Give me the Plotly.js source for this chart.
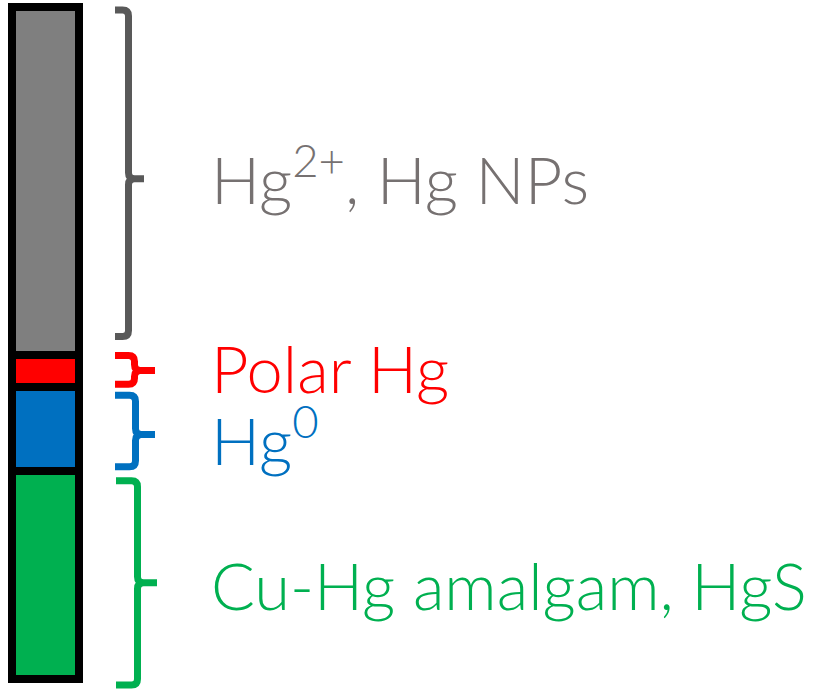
<!DOCTYPE html>
<html>
<head>
<meta charset="utf-8">
<script src="https://cdn.plot.ly/plotly-3.0.1.min.js"></script>
<style>html,body{margin:0;padding:0;background:#fff;}#chart{width:832px;height:692px;}</style>
</head>
<body>
<div id="chart"></div>
<script>
// ---- data ----
var categories = ['Cu-Hg amalgam, HgS', 'Hg<sup>0</sup>', 'Polar Hg', 'Hg<sup>2+</sup>, Hg NPs'];
var shares = [31.0, 12.4, 4.8, 51.8];
var barColors = ['#00B050', '#0070C0', '#FF0000', '#7F7F7F'];
var textColors = ['#00B050', '#0070C0', '#FF0000', '#767171'];
var braceColors = ['#00B050', '#0070C0', '#FF0000', '#595959'];

// ---- geometry (decoration) ----
var pxPerUnit = 6.72;           // y pixels per % (plot spans 0..100 over 672px)
var W = 832, H = 692;
var barCenterPx = 45.5, barWidthPx = 67;
// brace insets (px) relative to segment top / bottom, tick offset from brace middle (px), x offsets (px from bar center)
var braceGeom = [
  {topIn: 10, botIn: -6, tick: 0,   xl: 70.5, xv: 92, xt: 111.5, ys: -2},
  {topIn: 8,  botIn: 4,  tick: 3.5, xl: 69.5, xv: 90, xt: 109.5, ys: -1},
  {topIn: 0.5,botIn: 3,  tick: 0.5, xl: 69.5, xv: 89, xt: 109.5, ys: 2},
  {topIn: 3,  botIn: 18.5,tick: 5.5,xl: 69.5, xv: 83, xt: 98.5, ys: 4}
];
var labelX = (209 - barCenterPx) / barWidthPx;

var yMin = -(H - 679) / pxPerUnit, yMax = 100 + 7 / pxPerUnit;
var xMin = -barCenterPx / barWidthPx, xMax = (W - barCenterPx) / barWidthPx;

var traces = shares.map(function (v, i) {
  return {
    type: 'bar', x: [0], y: [v], width: [1], name: categories[i],
    marker: {color: barColors[i], line: {color: '#000000', width: 8}},
    hoverinfo: 'skip', showlegend: false
  };
});

var shapes = [], annotations = [];
var cum = 0;
shares.forEach(function (v, i) {
  var lo = cum, hi = cum + v; cum = hi;
  var g = braceGeom[i];
  var top = hi - g.topIn / pxPerUnit;
  var bot = lo + g.botIn / pxPerUnit;
  var mid = (top + bot) / 2 - g.tick / pxPerUnit;
  var r = 6, ry = r / pxPerUnit;
  var p = 'M' + g.xl + ',' + top +
    ' L' + (g.xv - r) + ',' + top +
    ' Q' + g.xv + ',' + top + ' ' + g.xv + ',' + (top - ry) +
    ' L' + g.xv + ',' + (mid + ry) +
    ' Q' + g.xv + ',' + mid + ' ' + (g.xv + r) + ',' + mid +
    ' L' + g.xt + ',' + mid +
    ' M' + (g.xv + r) + ',' + mid +
    ' Q' + g.xv + ',' + mid + ' ' + g.xv + ',' + (mid - ry) +
    ' L' + g.xv + ',' + (bot + ry) +
    ' Q' + g.xv + ',' + bot + ' ' + (g.xv - r) + ',' + bot +
    ' L' + g.xl + ',' + bot;
  shapes.push({
    type: 'path', xref: 'x', yref: 'y', xsizemode: 'pixel', xanchor: 0,
    path: p, line: {color: braceColors[i], width: 7}
  });
  annotations.push({
    xref: 'x', yref: 'y', x: labelX, y: mid, xanchor: 'left', yanchor: 'middle',
    yshift: g.ys,
    text: categories[i], showarrow: false,
    font: {family: 'Lato, sans-serif', size: 65, weight: 300, color: textColors[i]}
  });
});

var layout = {
  width: W, height: H, barmode: 'stack',
  margin: {l: 0, r: 0, t: 0, b: 0, pad: 0},
  paper_bgcolor: '#ffffff', plot_bgcolor: '#ffffff',
  xaxis: {range: [xMin, xMax], visible: false, fixedrange: true},
  yaxis: {range: [yMin, yMax], visible: false, fixedrange: true},
  shapes: shapes, annotations: annotations, showlegend: false
};
Plotly.newPlot('chart', traces, layout, {staticPlot: true, displayModeBar: false});
</script>
</body>
</html>
